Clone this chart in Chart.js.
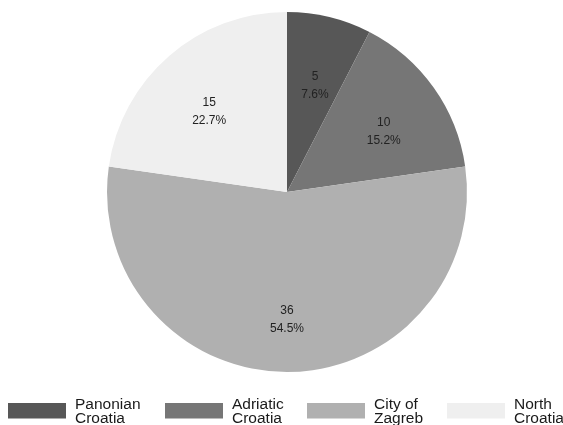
<!DOCTYPE html>
<html>
<head>
<meta charset="utf-8">
<script src="https://cdn.jsdelivr.net/npm/chart.js@4/dist/chart.umd.min.js"></script>
<style>
  html, body { margin: 0; padding: 0; background: #ffffff; }
  #wrap { width: 563px; height: 425px; }
</style>
</head>
<body>
<div id="wrap"><canvas id="pieChart" width="563" height="425"></canvas></div>
<script>
// regions and number of respondents
const regions = [['Panonian', 'Croatia'], ['Adriatic', 'Croatia'], ['City of', 'Zagreb'], ['North', 'Croatia']];
const counts = [5, 10, 36, 15];
const sliceColors = ['#575757', '#767676', '#b0b0b0', '#efefef'];

const total = counts.reduce((a, b) => a + b, 0);
const FONT = '"Liberation Sans", Arial, sans-serif';

// value + percentage inside each slice
const sliceLabels = {
  id: 'sliceLabels',
  afterDatasetsDraw(chart) {
    const ctx = chart.ctx;
    const meta = chart.getDatasetMeta(0);
    ctx.save();
    ctx.font = '12px ' + FONT;
    ctx.fillStyle = '#222222';
    ctx.textAlign = 'center';
    ctx.textBaseline = 'middle';
    meta.data.forEach((arc, i) => {
      const p = arc.getProps(['x', 'y', 'startAngle', 'endAngle', 'outerRadius'], true);
      const mid = (p.startAngle + p.endAngle) / 2;
      const r = p.outerRadius * 0.66;
      const x = p.x + Math.cos(mid) * r;
      const y = p.y + Math.sin(mid) * r;
      const pct = (counts[i] / total * 100).toFixed(1) + '%';
      ctx.fillText(String(counts[i]), x, y);
      ctx.fillText(pct, x, y + 18);
    });
    ctx.restore();
  }
};

// legend along the bottom with wide swatches and two-line names
const bottomLegend = {
  id: 'bottomLegend',
  afterDraw(chart) {
    const ctx = chart.ctx;
    const starts = [8, 165, 307, 447];
    ctx.save();
    ctx.font = '15.5px ' + FONT;
    ctx.textAlign = 'left';
    ctx.textBaseline = 'alphabetic';
    regions.forEach((name, i) => {
      const x = starts[i];
      ctx.fillStyle = sliceColors[i];
      ctx.fillRect(x, 403, 58, 15.5);
      ctx.fillStyle = '#1a1a1a';
      ctx.fillText(name[0], x + 67, 409);
      ctx.fillText(name[1], x + 67, 423);
    });
    ctx.restore();
  }
};

new Chart(document.getElementById('pieChart'), {
  type: 'pie',
  data: {
    labels: regions.map(r => r.join(' ')),
    datasets: [{
      data: counts,
      backgroundColor: sliceColors,
      borderWidth: 0
    }]
  },
  options: {
    responsive: false,
    animation: false,
    layout: { padding: { left: 107, right: 96, top: 12, bottom: 53 } },
    plugins: {
      legend: { display: false },
      tooltip: { enabled: false }
    }
  },
  plugins: [sliceLabels, bottomLegend]
});
</script>
</body>
</html>
